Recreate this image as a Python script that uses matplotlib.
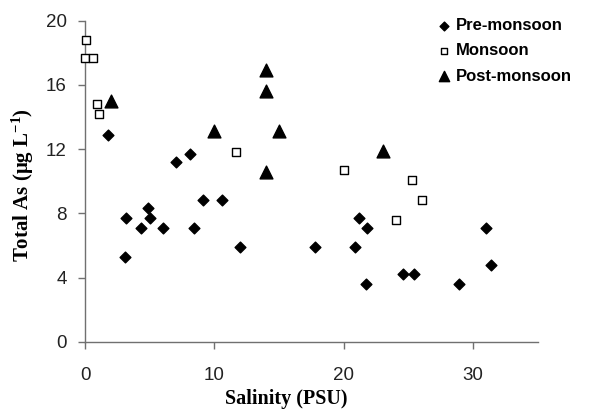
import matplotlib
matplotlib.use("Agg")
import matplotlib.pyplot as plt

# Datos
pre_sal = [1.8, 3.1, 3.2, 4.3, 4.9, 5.0, 6.0, 7.0, 8.1, 8.4, 9.1, 10.6, 12.0,
           17.8, 20.9, 21.2, 21.7, 21.8, 24.6, 25.4, 28.9, 31.0, 31.4]
pre_as = [12.9, 5.3, 7.7, 7.1, 8.3, 7.7, 7.1, 11.2, 11.7, 7.1, 8.8, 8.8, 5.9,
          5.9, 5.9, 7.7, 3.6, 7.1, 4.2, 4.2, 3.6, 7.1, 4.8]

mon_sal = [0.05, 0.0, 0.6, 0.9, 1.1, 11.7, 20.0, 24.0, 25.3, 26.0]
mon_as = [18.8, 17.7, 17.7, 14.8, 14.2, 11.8, 10.7, 7.6, 10.1, 8.8]

post_sal = [2.0, 10.0, 14.0, 14.0, 14.0, 15.0, 23.0]
post_as = [15.0, 13.1, 16.9, 15.6, 10.6, 13.1, 11.9]

x_ticks = [0, 10, 20, 30]
y_ticks = [0, 4, 8, 12, 16, 20]

plt.rcParams['mathtext.fontset'] = 'custom'
plt.rcParams['mathtext.rm'] = 'Liberation Serif:bold'
plt.rcParams['mathtext.it'] = 'Liberation Serif:bold'
plt.rcParams['mathtext.bf'] = 'Liberation Serif:bold'

fig = plt.figure(figsize=(5.94, 4.11), dpi=100)
ax = fig.add_axes([0.1431, 0.1686, 0.7626, 0.781])

ax.scatter(pre_sal, pre_as, marker='D', s=30, color='black', label='Pre-monsoon',
           zorder=3, clip_on=False)
ax.scatter(mon_sal, mon_as, marker='s', s=30, facecolor='white', edgecolor='black',
           linewidth=1.0, label='Monsoon', zorder=3, clip_on=False)
ax.scatter(post_sal, post_as, marker='^', s=85, color='black', label='Post-monsoon',
           zorder=3, clip_on=False)

ax.set_xlim(0, 35)
ax.set_ylim(0, 20)
ax.set_xticks(x_ticks)
ax.set_yticks(y_ticks)

for side in ['top', 'right']:
    ax.spines[side].set_visible(False)
for side in ['left', 'bottom']:
    ax.spines[side].set_color('#707070')
    ax.spines[side].set_linewidth(1.0)
ax.tick_params(direction='out', length=5, width=1.0, color='#707070',
               labelsize=13.5, labelcolor='#222222')
ax.tick_params(axis='x', pad=13)
ax.tick_params(axis='y', pad=8)
for lbl in ax.get_xticklabels() + ax.get_yticklabels():
    lbl.set_fontfamily('Liberation Sans')

ax.set_xlabel('Salinity (PSU)', fontfamily='Liberation Serif', fontweight='bold',
              fontsize=14.5)
ax.xaxis.set_label_coords(0.444, -0.148)
ax.set_ylabel('Total As (\u03bcg L$^{-1}$)', fontfamily='Liberation Serif',
              fontweight='bold', fontsize=15)
ax.yaxis.set_label_coords(-0.108, 0.488)

leg = ax.legend(loc='upper right', bbox_to_anchor=(1.10, 1.045), frameon=False,
                handlelength=0.8, handletextpad=0.3, labelspacing=0.62, borderpad=0.2,
                prop={'family': 'Liberation Sans', 'weight': 'bold', 'size': 12})
for h in leg.legend_handles:
    h.set_sizes([20])
leg.legend_handles[2].set_sizes([55])

plt.savefig('out.png', dpi=100)
plt.close()
